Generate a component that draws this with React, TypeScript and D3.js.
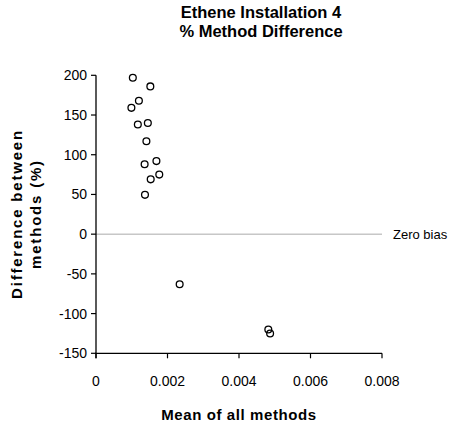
import React from "react";
import * as d3 from "d3";

const meanValues = [0.00103, 0.00152, 0.0012, 0.00099, 0.00117, 0.00145, 0.00141, 0.00136, 0.00169, 0.00153, 0.00177, 0.00137, 0.00234, 0.00482, 0.00487];
const diffValues = [197, 186, 168, 159, 138, 140, 117, 88, 92, 69, 75, 49.5, -63, -120, -125];
const xTicks = [0, 0.002, 0.004, 0.006, 0.008];
const yTicks = [200, 150, 100, 50, 0, -50, -100, -150];
const titleLines = ["Ethene Installation 4", "% Method Difference"];
const yLabelLines = ["Difference between", "methods (%)"];
const xLabel = "Mean of all methods";
const refLabel = "Zero bias";

const W = 452, H = 431;
const font = "'Liberation Sans', Arial, sans-serif";

export default function App() {
  const x = d3.scaleLinear().domain([0, 0.008]).range([96, 382]);
  const y = d3.scaleLinear().domain([-150, 200]).range([353.3, 75.3]);
  const fmt = (v: number) => (v === 0 ? "0" : d3.format(".3f")(v));
  return (
    <svg width={W} height={H} style={{ position: "absolute", left: 0, top: 0, background: "#fff" }} fontFamily={font}>
      <rect width={W} height={H} fill="#fff" />
      {titleLines.map((t, i) => (
        <text key={t} x={261} y={18 + i * 19} textAnchor="middle" fontWeight="bold" fontSize={16.5}>{t}</text>
      ))}
      <line x1={x(0)} x2={x(0.008)} y1={y(0)} y2={y(0)} stroke="#aaa" strokeWidth={1} />
      <text x={393} y={y(0) + 5} fontSize={13}>{refLabel}</text>
      <line x1={x(0)} x2={x(0)} y1={y(200)} y2={y(-150) + 5} stroke="#000" strokeWidth={1.3} />
      <line x1={x(0) - 1} x2={x(0.008)} y1={y(-150)} y2={y(-150)} stroke="#000" strokeWidth={1.3} />
      {yTicks.map((t) => (
        <g key={t}>
          <line x1={x(0) - 5} x2={x(0)} y1={y(t)} y2={y(t)} stroke="#000" strokeWidth={1.2} />
          <text x={87} y={y(t) + 5} textAnchor="end" fontSize={14}>{t}</text>
        </g>
      ))}
      {xTicks.map((t) => (
        <g key={t}>
          <line x1={x(t)} x2={x(t)} y1={y(-150)} y2={y(-150) + 5} stroke="#000" strokeWidth={1.2} />
          <text x={x(t)} y={y(-150) + 33} textAnchor="middle" fontSize={14}>{fmt(t)}</text>
        </g>
      ))}
      {meanValues.map((m, i) => (
        <circle key={i} cx={x(m)} cy={y(diffValues[i])} r={3.4} fill="none" stroke="#000" strokeWidth={1.3} />
      ))}
      <text x={239} y={420} textAnchor="middle" fontWeight="bold" fontSize={15} letterSpacing={0.6}>{xLabel}</text>
      {yLabelLines.map((t, i) => (
        <text key={t} transform={`translate(${22 + i * 19},214) rotate(-90)`} textAnchor="middle" fontWeight="bold" fontSize={15} letterSpacing={1.8}>{t}</text>
      ))}
    </svg>
  );
}
